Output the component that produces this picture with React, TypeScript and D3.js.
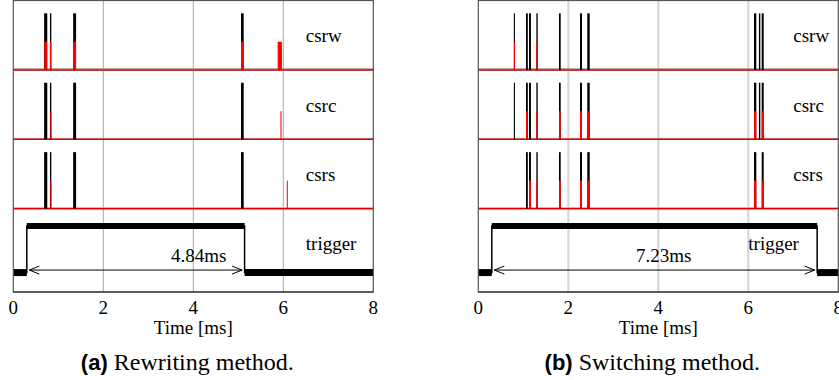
import { useEffect, useRef } from "react"
import * as d3 from "d3"

type Pulse = [number, number]

const channels = ["csrw", "csrc", "csrs"]
const timeTicks = [0, 2, 4, 6, 8]
const gridTicks = [2, 4, 6]

// (a) rewriting method, pulse start / end in ms
const aCsrwBlack: Pulse[] = [[0.685, 0.755], [0.815, 0.845], [1.33, 1.395], [5.06, 5.12]]
const aCsrwRed: Pulse[] = [[0.69, 0.75], [0.815, 0.845], [1.33, 1.395], [5.06, 5.12], [5.875, 5.97]]
const aCsrcBlack: Pulse[] = [[0.685, 0.755], [0.815, 0.845], [1.33, 1.395], [5.06, 5.12]]
const aCsrcRed: Pulse[] = [[0.823, 0.845], [5.937, 5.96]]
const aCsrsBlack: Pulse[] = [[0.685, 0.755], [0.815, 0.845], [1.33, 1.395], [5.06, 5.12]]
const aCsrsRed: Pulse[] = [[0.823, 0.845], [6.078, 6.1]]
const aTrigger = [0.3, 5.14]
const aDelta = "4.84ms"

// (b) switching method
const bCsrwBlack: Pulse[] = [
  [0.79, 0.815], [1.06, 1.1], [1.127, 1.17], [1.29, 1.32], [1.793, 1.831],
  [2.26, 2.304], [2.422, 2.476], [6.127, 6.178], [6.236, 6.267], [6.298, 6.342],
]
const bCsrwRed: Pulse[] = [[0.79, 0.815], [1.29, 1.32]]
const bCsrcBlack: Pulse[] = [
  [0.79, 0.815], [1.06, 1.1], [1.127, 1.17], [1.29, 1.32], [1.793, 1.831],
  [2.26, 2.304], [2.422, 2.476], [6.127, 6.178], [6.236, 6.267], [6.298, 6.342],
]
const bCsrcRed: Pulse[] = [
  [1.06, 1.1], [1.29, 1.32], [1.793, 1.831], [2.26, 2.304], [2.422, 2.476], [6.127, 6.178], [6.298, 6.342],
]
const bCsrsBlack: Pulse[] = [
  [1.06, 1.1], [1.127, 1.17], [1.29, 1.32], [1.793, 1.831], [2.26, 2.304], [2.422, 2.476], [6.127, 6.178], [6.298, 6.342],
]
const bCsrsRed: Pulse[] = [
  [1.127, 1.17], [1.29, 1.32], [1.793, 1.831], [2.26, 2.304], [2.422, 2.476], [6.127, 6.178], [6.298, 6.342],
]
const bTrigger = [0.3, 7.53]
const bDelta = "7.23ms"

// trigger low / high, pulse heights (black, red) in channel units
const triggerLevels = [0.08, 0.75]
const pulseHeights = [0.815, 0.405]

const panels = [
  {
    left: 13.3,
    tag: "(a)",
    caption: "Rewriting method.",
    black: [aCsrwBlack, aCsrcBlack, aCsrsBlack],
    red: [aCsrwRed, aCsrcRed, aCsrsRed],
    trigger: aTrigger,
    delta: aDelta,
    labelT: 6.5,
    triggerLabelT: 6.5,
    gridColor: "#a8a8a8",
    gridWidth: 1,
  },
  {
    left: 478.3,
    tag: "(b)",
    caption: "Switching method.",
    black: [bCsrwBlack, bCsrcBlack, bCsrsBlack],
    red: [bCsrwRed, bCsrcRed, bCsrsRed],
    trigger: bTrigger,
    delta: bDelta,
    labelT: 7.0,
    triggerLabelT: 6.0,
    gridColor: "#d4d4d4",
    gridWidth: 2,
  },
]

const serif = "'Liberation Serif', 'Times New Roman', serif"

export default function App() {
  const svgRef = useRef<SVGSVGElement>(null)

  useEffect(() => {
    if (!svgRef.current) return
    const root = d3.select(svgRef.current)
    root.selectAll("*").remove()

    const plotWidth = 360
    const top = 0.5
    const bottom = 292
    const y = d3.scaleLinear().domain([-0.2, 4]).range([bottom, top])

    panels.forEach((p) => {
      const x = d3.scaleLinear().domain([0, 8]).range([p.left, p.left + plotWidth])
      const g = root.append("g")

      // vertical grid
      g.selectAll(".grid")
        .data(gridTicks)
        .enter()
        .append("line")
        .attr("x1", (d) => x(d))
        .attr("x2", (d) => x(d))
        .attr("y1", top)
        .attr("y2", bottom)
        .attr("stroke", p.gridColor)
        .attr("stroke-width", p.gridWidth)

      // channel boundaries + baselines
      channels.forEach((name, i) => {
        const off = 3 - i
        g.append("line")
          .attr("x1", x(0))
          .attr("x2", x(8))
          .attr("y1", y(off) - 1)
          .attr("y2", y(off) - 1)
          .attr("stroke", "#b0b0b0")
          .attr("stroke-width", 1)
        g.append("line")
          .attr("x1", x(0))
          .attr("x2", x(8))
          .attr("y1", y(off))
          .attr("y2", y(off))
          .attr("stroke", i === 0 ? "#b83c3c" : "#e00000")
          .attr("stroke-width", i === 0 ? 2.4 : 1.6)

        const draw = (pulses: Pulse[], h: number, color: string) => {
          g.selectAll(null)
            .data(pulses)
            .enter()
            .append("rect")
            .attr("x", (d) => x(d[0]))
            .attr("width", (d) => Math.max(1, x(d[1]) - x(d[0])))
            .attr("y", y(off + h))
            .attr("height", y(off) - y(off + h))
            .attr("fill", color)
        }
        draw(p.black[i], pulseHeights[0], "#000")
        draw(p.red[i], pulseHeights[1], "#ff0000")

        g.append("text")
          .attr("x", x(p.labelT))
          .attr("y", y(off + 0.4))
          .attr("font-family", serif)
          .attr("font-size", 19)
          .text(name)
      })

      // trigger trace
      const [rise, fall] = p.trigger
      const [lo, hi] = triggerLevels
      const steps: [number, number][] = [[0, lo], [rise, lo], [rise, hi], [fall, hi], [fall, lo], [8, lo]]
      g.append("path")
        .attr("d", d3.line<[number, number]>().x((d) => x(d[0])).y((d) => y(d[1]))(steps))
        .attr("fill", "none")
        .attr("stroke", "#000")
        .attr("stroke-width", 1.5)
      const bands: [number, number, number, number][] = [[0, rise, lo, 7], [rise, fall, hi, 6], [fall, 8, lo, 7]]
      g.selectAll(null)
        .data(bands)
        .enter()
        .append("line")
        .attr("x1", (d) => x(d[0]))
        .attr("x2", (d) => x(d[1]))
        .attr("y1", (d) => y(d[2]))
        .attr("y2", (d) => y(d[2]))
        .attr("stroke", "#000")
        .attr("stroke-width", (d) => d[3])
        .attr("stroke-linecap", "butt")

      // measurement arrow
      const ay = y(lo) - 2.5
      const ax1 = x(rise) + 2.5
      const ax2 = x(fall) - 2.5
      g.append("path")
        .attr(
          "d",
          `M${ax1},${ay}H${ax2}M${ax1 + 10},${ay - 4}L${ax1},${ay}L${ax1 + 10},${ay + 4}` +
            `M${ax2 - 10},${ay - 4}L${ax2},${ay}L${ax2 - 10},${ay + 4}`
        )
        .attr("fill", "none")
        .attr("stroke", "#000")
        .attr("stroke-width", 1)
      g.append("text")
        .attr("x", x(4.12))
        .attr("y", ay - 8.5)
        .attr("text-anchor", "middle")
        .attr("font-family", serif)
        .attr("font-size", 19)
        .text(p.delta)
      g.append("text")
        .attr("x", x(p.triggerLabelT))
        .attr("y", y(0.4))
        .attr("font-family", serif)
        .attr("font-size", 19)
        .text("trigger")

      // frame and axis
      g.append("rect")
        .attr("x", x(0))
        .attr("y", top)
        .attr("width", plotWidth)
        .attr("height", bottom - top)
        .attr("fill", "none")
        .attr("stroke", "#555")
        .attr("stroke-width", 1.2)
      g.append("line")
        .attr("x1", x(0))
        .attr("x2", x(8))
        .attr("y1", bottom)
        .attr("y2", bottom)
        .attr("stroke", "#222")
        .attr("stroke-width", 1.2)

      g.selectAll(null)
        .data(timeTicks)
        .enter()
        .append("text")
        .attr("x", (d) => x(d))
        .attr("y", 314)
        .attr("text-anchor", "middle")
        .attr("font-family", serif)
        .attr("font-size", 19)
        .text((d) => String(d))

      g.append("text")
        .attr("x", x(4))
        .attr("y", 334.3)
        .attr("text-anchor", "middle")
        .attr("font-family", serif)
        .attr("font-size", 19)
        .text("Time [ms]")

      const cap = g
        .append("text")
        .attr("x", x(4) - 6)
        .attr("y", 370)
        .attr("text-anchor", "middle")
        .attr("font-size", 24)
      cap.append("tspan")
        .attr("font-family", "'Liberation Sans', Arial, sans-serif")
        .attr("font-weight", "bold")
        .attr("font-size", 22)
        .text(p.tag)
      cap.append("tspan")
        .attr("font-family", serif)
        .text(" " + p.caption)
    })
  }, [])

  return (
    <svg
      ref={svgRef}
      width={839}
      height={380}
      style={{ position: "absolute", left: 0, top: 0, background: "#fff" }}
    />
  )
}
